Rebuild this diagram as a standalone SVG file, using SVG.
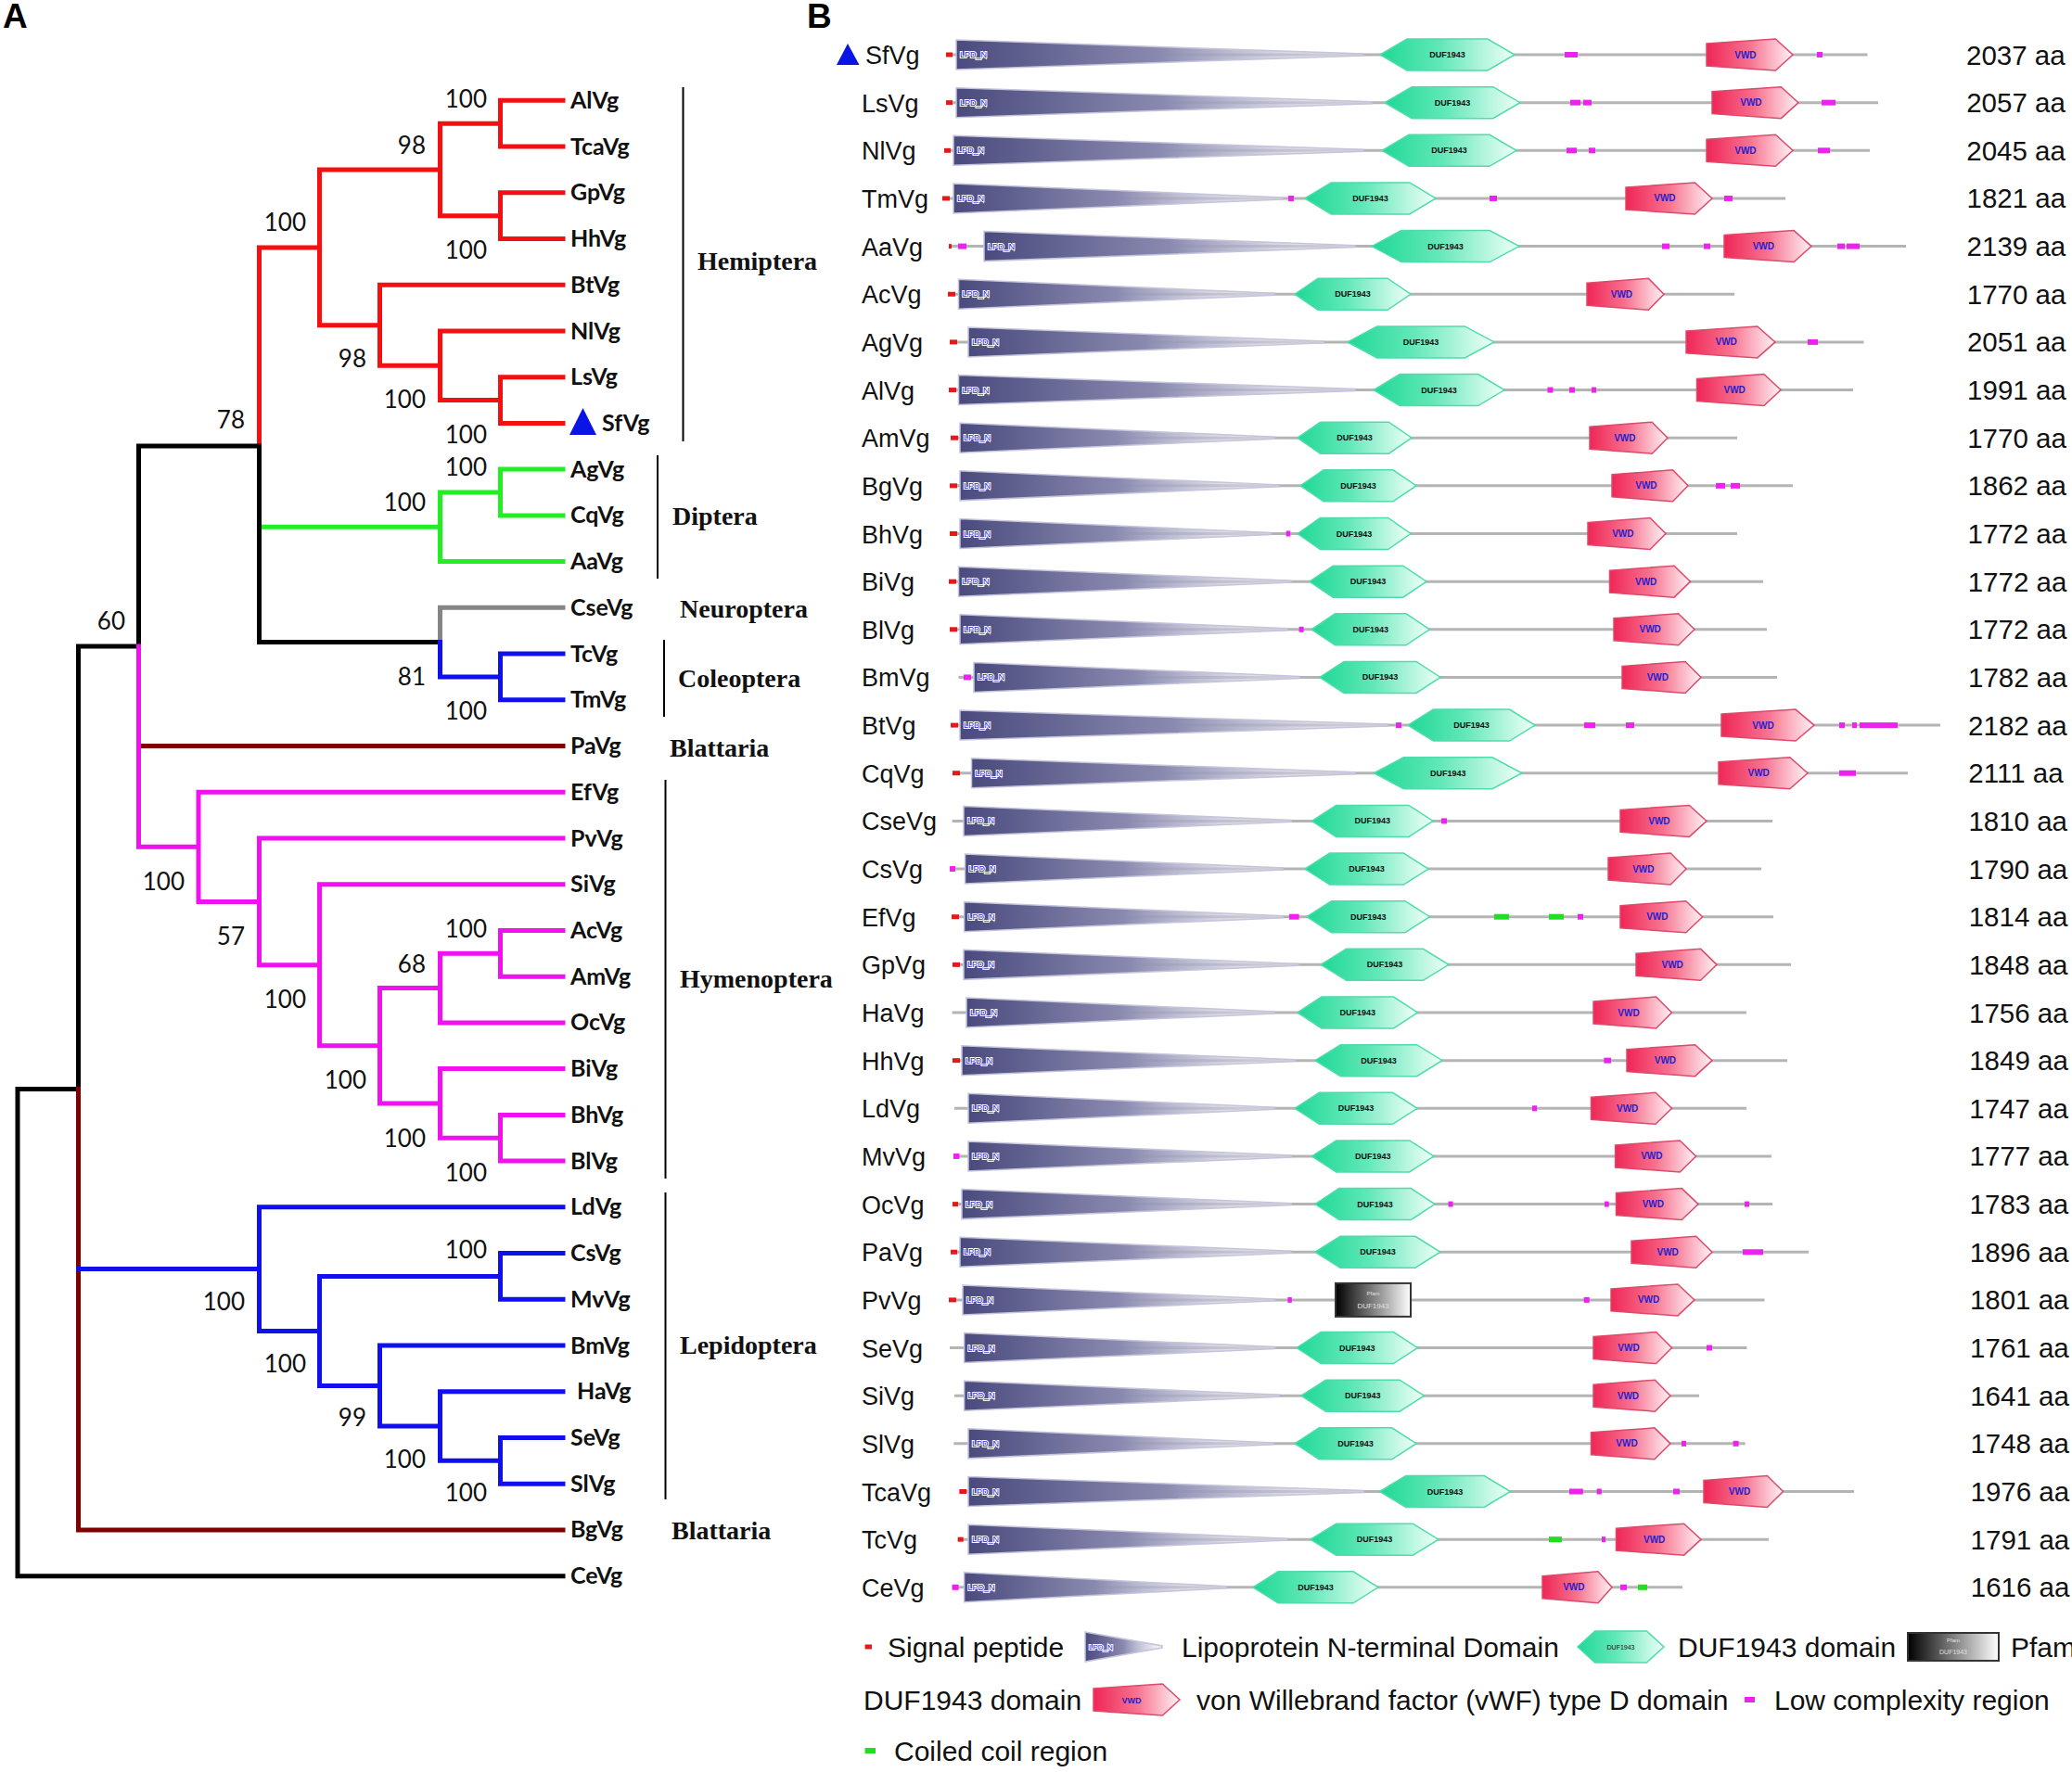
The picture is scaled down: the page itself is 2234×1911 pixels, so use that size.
<svg xmlns="http://www.w3.org/2000/svg" width="2234" height="1911" viewBox="0 0 2234 1911">
<style>
.br{fill:none;stroke-width:5;stroke-linecap:square;stroke-linejoin:miter}
.k{stroke:#000}.r{stroke:#f41010}.g{stroke:#22ee22}.b{stroke:#1010ee}.m{stroke:#f010f0}.gy{stroke:#858585}.dr{stroke:#800000}
.tl{font:bold 25px Lato,"Liberation Sans",sans-serif;fill:#111}
.bs{font:26px Lato,"Liberation Sans",sans-serif;fill:#111;text-anchor:end}
.ord{font:bold 28px "Liberation Serif",serif;fill:#111}
.brk{stroke:#000;stroke-width:2}
.pl{font:bold 37px "Liberation Sans",Arial,sans-serif;fill:#000}
.nm{font:27px "Liberation Sans",Arial,sans-serif;fill:#111}
.len{font:29.5px "Liberation Sans",Arial,sans-serif;fill:#111}
.lg{font:30px "Liberation Sans",Arial,sans-serif;fill:#111}
.bb{stroke:#b4b4b4;stroke-width:3}
.sp{fill:#e41a1a}.lc{fill:#ee22ee}.cc{fill:#22dd22}
.lpd{fill:url(#lpdG);stroke:#c4c4dc;stroke-width:1.5}
.duf{fill:url(#dufG);stroke:#4fdcaa;stroke-width:1.5}
.vwd{fill:url(#vwdG);stroke:#dd4a6a;stroke-width:1.5}
.pf{fill:url(#pfG);stroke:#333;stroke-width:2}
.lt{font:9px "Liberation Sans",Arial,sans-serif;fill:#2b2bd6;stroke:#fff;stroke-width:2;paint-order:stroke}
.dt{font:bold 9px "Liberation Sans",Arial,sans-serif;fill:#111;text-anchor:middle}
.vt{font:bold 10px "Liberation Sans",Arial,sans-serif;fill:#1f1fd0;text-anchor:middle}
.pt{font:7px "Liberation Sans",Arial,sans-serif;fill:#e0e0e0;text-anchor:middle}
</style>
<defs>
<linearGradient id="lpdG" x1="0" y1="0" x2="1" y2="0"><stop offset="0" stop-color="#4a4a7e"/><stop offset="0.5" stop-color="#8a8ab0"/><stop offset="1" stop-color="#eeeef6" stop-opacity="0.5"/></linearGradient>
<linearGradient id="dufG" x1="0" y1="0" x2="1" y2="0"><stop offset="0" stop-color="#1fd896"/><stop offset="0.45" stop-color="#62e8b8"/><stop offset="1" stop-color="#effff9"/></linearGradient>
<linearGradient id="vwdG" x1="0" y1="0" x2="1" y2="0"><stop offset="0" stop-color="#ef2656"/><stop offset="0.5" stop-color="#f7728f"/><stop offset="1" stop-color="#fff2f5"/></linearGradient>
<linearGradient id="pfG" x1="0" y1="0" x2="1" y2="0"><stop offset="0" stop-color="#000"/><stop offset="1" stop-color="#fff"/></linearGradient>
</defs>
<rect width="2234" height="1911" fill="#fff"/>
<text class="pl" x="3" y="30">A</text>
<text class="pl" x="870" y="30">B</text>

<g id="tree-connectors">
<path class="br r" d="M607,108.3 H539.5 V158 H607 M607,207.8 H539.5 V257.5 H607 M539.5,133.2 H474.5 V232.7 H539.5 M607,406.7 H539.5 V456.4 H607 M607,357 H474.5 V431.6 H539.5 M607,307.2 H409.5 V394.3 H474.5 M474.5,183 H344.5 V350.8 H409.5 M344.5,266.9 H279.5 V481"/>
<path class="br g" d="M607,506.1 H539.5 V555.9 H607 M539.5,531 H474.5 V605.6 H607 M474.5,568.3 H279.5"/>
<path class="br k" d="M279.5,481 V692.6 H474.5 M279.5,481 H149.5 V697 H84.5 V1174.5 H19 V1699.7 H607"/>
<path class="br gy" d="M607,655.3 H474.5 V692.6"/>
<path class="br b" d="M474.5,692.6 V730 H539.5 M607,705.1 H539.5 V754.8 H607"/>
<path class="br dr" d="M149.5,804.5 H607 M84.5,1174.5 V1649.9 H607"/>
<path class="br m" d="M149.5,697 V913.3 H214 M607,854.3 H214 V972.4 H279.5 M607,904 H279.5 V1040.8 H344.5 M607,953.7 H344.5 V1127.8 H409.5 M474.5,1065.6 H409.5 V1190 H474.5 M539.5,1028.3 H474.5 V1102.9 H607 M607,1003.4 H539.5 V1053.2 H607 M607,1152.6 H474.5 V1227.3 H539.5 M607,1202.4 H539.5 V1252.1 H607"/>
<path class="br b" d="M84.5,1368.6 H279.5 M607,1301.8 H279.5 V1435.5 H344.5 M539.5,1376.5 H344.5 V1494.5 H409.5 M607,1351.6 H539.5 V1401.3 H607 M607,1451 H409.5 V1538 H474.5 M607,1500.7 H474.5 V1575.3 H539.5 M607,1550.5 H539.5 V1600.2 H607"/>
</g>

<g id="bootstrap">
<text class="bs" x="525" y="116">100</text>
<text class="bs" x="459" y="166">98</text>
<text class="bs" x="330" y="249">100</text>
<text class="bs" x="525" y="279">100</text>
<text class="bs" x="395" y="396">98</text>
<text class="bs" x="459" y="440">100</text>
<text class="bs" x="525" y="478">100</text>
<text class="bs" x="264" y="462">78</text>
<text class="bs" x="525" y="513">100</text>
<text class="bs" x="459" y="551">100</text>
<text class="bs" x="135" y="679">60</text>
<text class="bs" x="459" y="739">81</text>
<text class="bs" x="525" y="776">100</text>
<text class="bs" x="199" y="960">100</text>
<text class="bs" x="264" y="1019">57</text>
<text class="bs" x="330" y="1087">100</text>
<text class="bs" x="525" y="1011">100</text>
<text class="bs" x="459" y="1049">68</text>
<text class="bs" x="395" y="1174">100</text>
<text class="bs" x="459" y="1237">100</text>
<text class="bs" x="525" y="1274">100</text>
<text class="bs" x="525" y="1357">100</text>
<text class="bs" x="264" y="1413">100</text>
<text class="bs" x="330" y="1480">100</text>
<text class="bs" x="395" y="1538">99</text>
<text class="bs" x="459" y="1583">100</text>
<text class="bs" x="525" y="1619">100</text>
</g>

<g id="leaf-AlVg"><text class="tl" x="615" y="116.8">AlVg</text></g>
<g id="leaf-TcaVg"><text class="tl" x="615" y="166.5">TcaVg</text></g>
<g id="leaf-GpVg"><text class="tl" x="615" y="216.3">GpVg</text></g>
<g id="leaf-HhVg"><text class="tl" x="615" y="266">HhVg</text></g>
<g id="leaf-BtVg"><text class="tl" x="615" y="315.7">BtVg</text></g>
<g id="leaf-NlVg"><text class="tl" x="615" y="365.5">NlVg</text></g>
<g id="leaf-LsVg"><text class="tl" x="615" y="415.2">LsVg</text></g>
<g id="leaf-SfVg"><polygon points="614,469 643,469 628.5,440" fill="#0a14e6"/><text class="tl" x="649" y="464.9">SfVg</text></g>
<g id="leaf-AgVg"><text class="tl" x="615" y="514.6">AgVg</text></g>
<g id="leaf-CqVg"><text class="tl" x="615" y="564.4">CqVg</text></g>
<g id="leaf-AaVg"><text class="tl" x="615" y="614.1">AaVg</text></g>
<g id="leaf-CseVg"><text class="tl" x="615" y="663.8">CseVg</text></g>
<g id="leaf-TcVg"><text class="tl" x="615" y="713.6">TcVg</text></g>
<g id="leaf-TmVg"><text class="tl" x="615" y="763.3">TmVg</text></g>
<g id="leaf-PaVg"><text class="tl" x="615" y="813">PaVg</text></g>
<g id="leaf-EfVg"><text class="tl" x="615" y="862.8">EfVg</text></g>
<g id="leaf-PvVg"><text class="tl" x="615" y="912.5">PvVg</text></g>
<g id="leaf-SiVg"><text class="tl" x="615" y="962.2">SiVg</text></g>
<g id="leaf-AcVg"><text class="tl" x="615" y="1011.9">AcVg</text></g>
<g id="leaf-AmVg"><text class="tl" x="615" y="1061.7">AmVg</text></g>
<g id="leaf-OcVg"><text class="tl" x="615" y="1111.4">OcVg</text></g>
<g id="leaf-BiVg"><text class="tl" x="615" y="1161.1">BiVg</text></g>
<g id="leaf-BhVg"><text class="tl" x="615" y="1210.9">BhVg</text></g>
<g id="leaf-BlVg"><text class="tl" x="615" y="1260.6">BlVg</text></g>
<g id="leaf-LdVg"><text class="tl" x="615" y="1310.3">LdVg</text></g>
<g id="leaf-CsVg"><text class="tl" x="615" y="1360.1">CsVg</text></g>
<g id="leaf-MvVg"><text class="tl" x="615" y="1409.8">MvVg</text></g>
<g id="leaf-BmVg"><text class="tl" x="615" y="1459.5">BmVg</text></g>
<g id="leaf-HaVg"><text class="tl" x="622" y="1509.2">HaVg</text></g>
<g id="leaf-SeVg"><text class="tl" x="615" y="1559">SeVg</text></g>
<g id="leaf-SlVg"><text class="tl" x="615" y="1608.7">SlVg</text></g>
<g id="leaf-BgVg"><text class="tl" x="615" y="1658.4">BgVg</text></g>
<g id="leaf-CeVg"><text class="tl" x="615" y="1708.2">CeVg</text></g>

<g id="orders">
<line class="brk" x1="736.5" y1="94" x2="736.5" y2="476"/><text class="ord" x="752" y="291">Hemiptera</text>
<line class="brk" x1="709" y1="491" x2="709" y2="624"/><text class="ord" x="725" y="566">Diptera</text>
<text class="ord" x="733" y="666">Neuroptera</text>
<line class="brk" x1="716" y1="690" x2="716" y2="773"/><text class="ord" x="731" y="741">Coleoptera</text>
<text class="ord" x="722" y="816">Blattaria</text>
<line class="brk" x1="717.5" y1="841" x2="717.5" y2="1271"/><text class="ord" x="733" y="1065">Hymenoptera</text>
<line class="brk" x1="717.5" y1="1286" x2="717.5" y2="1617"/><text class="ord" x="733" y="1460">Lepidoptera</text>
<text class="ord" x="724" y="1660">Blattaria</text>
</g>

<g id="b-SfVg" transform="translate(0,59)">
<line class="bb" x1="1020" y1="0" x2="2013.5" y2="0"/><rect class="sp" x="1020" y="-2.5" width="7" height="5"/>
<polygon class="lpd" points="1031,-16 1470,-1 1470,1 1031,16"/><text class="lt" x="1035" y="3">LPD_N</text>
<polygon class="duf" points="1488,0 1517,-17 1604,-17 1633,0 1604,17 1517,17"/><text class="dt" x="1560.5" y="3">DUF1943</text>
<rect class="lc" x="1687" y="-3" width="14" height="6"/>
<polygon class="vwd" points="1840,-12 1914.4,-17 1933,0 1914.4,17 1840,12"/><text class="vt" x="1881.9" y="3.5">VWD</text>
<rect class="lc" x="1959" y="-3" width="6" height="6"/>
<polygon points="902,11 926.5,11 914,-12" fill="#0a14e6"/>
<text class="nm" x="933" y="10">SfVg</text><text class="len" x="2120" y="10.5">2037 aa</text>
</g>
<g id="b-LsVg" transform="translate(0,110.65)">
<line class="bb" x1="1020" y1="0" x2="2025" y2="0"/><rect class="sp" x="1020" y="-2.5" width="7" height="5"/>
<polygon class="lpd" points="1031,-16 1479,-1 1479,1 1031,16"/><text class="lt" x="1035" y="3">LPD_N</text>
<polygon class="duf" points="1493,0 1522.2,-17 1609.8,-17 1639,0 1609.8,17 1522.2,17"/><text class="dt" x="1566" y="3">DUF1943</text>
<rect class="lc" x="1693" y="-3" width="11" height="6"/><rect class="lc" x="1707" y="-3" width="9" height="6"/>
<polygon class="vwd" points="1846,-12 1920.4,-17 1939,0 1920.4,17 1846,12"/><text class="vt" x="1887.9" y="3.5">VWD</text>
<rect class="lc" x="1964" y="-3" width="15" height="6"/>
<text class="nm" x="929" y="10">LsVg</text><text class="len" x="2120.2" y="10.5">2057 aa</text>
</g>
<g id="b-NlVg" transform="translate(0,162.3)">
<line class="bb" x1="1018" y1="0" x2="2016" y2="0"/><rect class="sp" x="1018" y="-2.5" width="7" height="5"/>
<polygon class="lpd" points="1028,-16 1470,-1 1470,1 1028,16"/><text class="lt" x="1032" y="3">LPD_N</text>
<polygon class="duf" points="1490,0 1519,-17 1606,-17 1635,0 1606,17 1519,17"/><text class="dt" x="1562.5" y="3">DUF1943</text>
<rect class="lc" x="1689" y="-3" width="11" height="6"/><rect class="lc" x="1713" y="-3" width="7" height="6"/>
<polygon class="vwd" points="1840,-12 1914.4,-17 1933,0 1914.4,17 1840,12"/><text class="vt" x="1881.9" y="3.5">VWD</text>
<rect class="lc" x="1960" y="-3" width="13" height="6"/>
<text class="nm" x="929" y="10">NlVg</text><text class="len" x="2120.3" y="10.5">2045 aa</text>
</g>
<g id="b-TmVg" transform="translate(0,213.95)">
<line class="bb" x1="1016" y1="0" x2="1925" y2="0"/><rect class="sp" x="1016" y="-2.5" width="8" height="5"/>
<polygon class="lpd" points="1028,-16 1383,-1 1383,1 1028,16"/><text class="lt" x="1032" y="3">LPD_N</text>
<rect class="lc" x="1389" y="-3" width="6" height="6"/>
<polygon class="duf" points="1407,0 1435.2,-17 1519.8,-17 1548,0 1519.8,17 1435.2,17"/><text class="dt" x="1477.5" y="3">DUF1943</text>
<rect class="lc" x="1606" y="-3" width="8" height="6"/>
<polygon class="vwd" points="1753,-12 1827.4,-17 1846,0 1827.4,17 1753,12"/><text class="vt" x="1794.9" y="3.5">VWD</text>
<rect class="lc" x="1859" y="-3" width="9" height="6"/>
<text class="nm" x="929" y="10">TmVg</text><text class="len" x="2120.5" y="10.5">1821 aa</text>
</g>
<g id="b-AaVg" transform="translate(0,265.6)">
<line class="bb" x1="1023" y1="0" x2="2055" y2="0"/><rect class="sp" x="1023" y="-2.5" width="3" height="5"/><rect class="lc" x="1033" y="-3" width="9" height="6"/>
<polygon class="lpd" points="1061,-16 1461,-1 1461,1 1061,16"/><text class="lt" x="1065" y="3">LPD_N</text>
<polygon class="duf" points="1479,0 1510.8,-17 1606.2,-17 1638,0 1606.2,17 1510.8,17"/><text class="dt" x="1558.5" y="3">DUF1943</text>
<rect class="lc" x="1792" y="-3" width="8" height="6"/><rect class="lc" x="1837" y="-3" width="7" height="6"/>
<polygon class="vwd" points="1859,-12 1934.2,-17 1953,0 1934.2,17 1859,12"/><text class="vt" x="1901.3" y="3.5">VWD</text>
<rect class="lc" x="1981" y="-3" width="8" height="6"/><rect class="lc" x="1991" y="-3" width="14" height="6"/>
<text class="nm" x="929" y="10">AaVg</text><text class="len" x="2120.6" y="10.5">2139 aa</text>
</g>
<g id="b-AcVg" transform="translate(0,317.25)">
<line class="bb" x1="1022" y1="0" x2="1870" y2="0"/><rect class="sp" x="1022" y="-2.5" width="8" height="5"/>
<polygon class="lpd" points="1033.5,-16 1374,-1 1374,1 1033.5,16"/><text class="lt" x="1037.5" y="3">LPD_N</text>
<polygon class="duf" points="1396,0 1421,-17 1496,-17 1521,0 1496,17 1421,17"/><text class="dt" x="1458.5" y="3">DUF1943</text>
<polygon class="vwd" points="1711,-12 1777.4,-17 1794,0 1777.4,17 1711,12"/><text class="vt" x="1748.4" y="3.5">VWD</text>
<text class="nm" x="929" y="10">AcVg</text><text class="len" x="2120.8" y="10.5">1770 aa</text>
</g>
<g id="b-AgVg" transform="translate(0,368.9)">
<line class="bb" x1="1024" y1="0" x2="2009.5" y2="0"/><rect class="sp" x="1024" y="-2.5" width="8" height="5"/>
<polygon class="lpd" points="1044,-16 1427,-1 1427,1 1044,16"/><text class="lt" x="1048" y="3">LPD_N</text>
<polygon class="duf" points="1453,0 1484.6,-17 1579.4,-17 1611,0 1579.4,17 1484.6,17"/><text class="dt" x="1532" y="3">DUF1943</text>
<polygon class="vwd" points="1818,-12 1894.8,-17 1914,0 1894.8,17 1818,12"/><text class="vt" x="1861.2" y="3.5">VWD</text>
<rect class="lc" x="1949" y="-3" width="11" height="6"/>
<text class="nm" x="929" y="10">AgVg</text><text class="len" x="2120.9" y="10.5">2051 aa</text>
</g>
<g id="b-AlVg" transform="translate(0,420.55)">
<line class="bb" x1="1023" y1="0" x2="1998" y2="0"/><rect class="sp" x="1023" y="-2.5" width="8" height="5"/>
<polygon class="lpd" points="1033.5,-16 1461,-1 1461,1 1033.5,16"/><text class="lt" x="1037.5" y="3">LPD_N</text>
<polygon class="duf" points="1481,0 1509.2,-17 1593.8,-17 1622,0 1593.8,17 1509.2,17"/><text class="dt" x="1551.5" y="3">DUF1943</text>
<rect class="lc" x="1668.5" y="-3" width="6" height="6"/><rect class="lc" x="1692" y="-3" width="6" height="6"/><rect class="lc" x="1716" y="-3" width="5" height="6"/>
<polygon class="vwd" points="1829.5,-12 1901.9,-17 1920,0 1901.9,17 1829.5,12"/><text class="vt" x="1870.2" y="3.5">VWD</text>
<text class="nm" x="929" y="10">AlVg</text><text class="len" x="2121.1" y="10.5">1991 aa</text>
</g>
<g id="b-AmVg" transform="translate(0,472.2)">
<line class="bb" x1="1025" y1="0" x2="1873" y2="0"/><rect class="sp" x="1025" y="-2.5" width="8" height="5"/>
<polygon class="lpd" points="1035,-16 1374,-1 1374,1 1035,16"/><text class="lt" x="1039" y="3">LPD_N</text>
<polygon class="duf" points="1399,0 1423.6,-17 1497.4,-17 1522,0 1497.4,17 1423.6,17"/><text class="dt" x="1460.5" y="3">DUF1943</text>
<polygon class="vwd" points="1714,-12 1781.2,-17 1798,0 1781.2,17 1714,12"/><text class="vt" x="1751.8" y="3.5">VWD</text>
<text class="nm" x="929" y="10">AmVg</text><text class="len" x="2121.2" y="10.5">1770 aa</text>
</g>
<g id="b-BgVg" transform="translate(0,523.85)">
<line class="bb" x1="1024" y1="0" x2="1933" y2="0"/><rect class="sp" x="1024" y="-2.5" width="8" height="5"/>
<polygon class="lpd" points="1035,-16 1379,-1 1379,1 1035,16"/><text class="lt" x="1039" y="3">LPD_N</text>
<polygon class="duf" points="1402,0 1427,-17 1502,-17 1527,0 1502,17 1427,17"/><text class="dt" x="1464.5" y="3">DUF1943</text>
<polygon class="vwd" points="1738,-12 1803.6,-17 1820,0 1803.6,17 1738,12"/><text class="vt" x="1774.9" y="3.5">VWD</text>
<rect class="lc" x="1850" y="-3" width="10" height="6"/><rect class="lc" x="1866" y="-3" width="10" height="6"/>
<text class="nm" x="929" y="10">BgVg</text><text class="len" x="2121.4" y="10.5">1862 aa</text>
</g>
<g id="b-BhVg" transform="translate(0,575.5)">
<line class="bb" x1="1024" y1="0" x2="1873" y2="0"/><rect class="sp" x="1024" y="-2.5" width="8" height="5"/>
<polygon class="lpd" points="1035,-16 1370,-1 1370,1 1035,16"/><text class="lt" x="1039" y="3">LPD_N</text>
<rect class="lc" x="1386.7" y="-3" width="4.5" height="6"/>
<polygon class="duf" points="1399,0 1423.4,-17 1496.6,-17 1521,0 1496.6,17 1423.4,17"/><text class="dt" x="1460" y="3">DUF1943</text>
<polygon class="vwd" points="1712,-12 1779.2,-17 1796,0 1779.2,17 1712,12"/><text class="vt" x="1749.8" y="3.5">VWD</text>
<text class="nm" x="929" y="10">BhVg</text><text class="len" x="2121.5" y="10.5">1772 aa</text>
</g>
<g id="b-BiVg" transform="translate(0,627.15)">
<line class="bb" x1="1023" y1="0" x2="1901" y2="0"/><rect class="sp" x="1023" y="-2.5" width="8" height="5"/>
<polygon class="lpd" points="1033.5,-16 1392,-1 1392,1 1033.5,16"/><text class="lt" x="1037.5" y="3">LPD_N</text>
<polygon class="duf" points="1412,0 1437.2,-17 1512.8,-17 1538,0 1512.8,17 1437.2,17"/><text class="dt" x="1475" y="3">DUF1943</text>
<polygon class="vwd" points="1735.5,-12 1805.1,-17 1822.5,0 1805.1,17 1735.5,12"/><text class="vt" x="1774.7" y="3.5">VWD</text>
<text class="nm" x="929" y="10">BiVg</text><text class="len" x="2121.7" y="10.5">1772 aa</text>
</g>
<g id="b-BlVg" transform="translate(0,678.8)">
<line class="bb" x1="1024" y1="0" x2="1905" y2="0"/><rect class="sp" x="1024" y="-2.5" width="8" height="5"/>
<polygon class="lpd" points="1035,-16 1388,-1 1388,1 1035,16"/><text class="lt" x="1039" y="3">LPD_N</text>
<rect class="lc" x="1400.6" y="-3" width="5" height="6"/>
<polygon class="duf" points="1414,0 1439.5,-17 1516,-17 1541.5,0 1516,17 1439.5,17"/><text class="dt" x="1477.8" y="3">DUF1943</text>
<polygon class="vwd" points="1740,-12 1809.6,-17 1827,0 1809.6,17 1740,12"/><text class="vt" x="1779.2" y="3.5">VWD</text>
<text class="nm" x="929" y="10">BlVg</text><text class="len" x="2121.8" y="10.5">1772 aa</text>
</g>
<g id="b-BmVg" transform="translate(0,730.45)">
<line class="bb" x1="1033.5" y1="0" x2="1916" y2="0"/><rect class="lc" x="1039" y="-3" width="8" height="6"/>
<polygon class="lpd" points="1050,-16 1401,-1 1401,1 1050,16"/><text class="lt" x="1054" y="3">LPD_N</text>
<polygon class="duf" points="1423,0 1449,-17 1527,-17 1553,0 1527,17 1449,17"/><text class="dt" x="1488" y="3">DUF1943</text>
<polygon class="vwd" points="1749,-12 1817,-17 1834,0 1817,17 1749,12"/><text class="vt" x="1787.3" y="3.5">VWD</text>
<text class="nm" x="929" y="10">BmVg</text><text class="len" x="2122" y="10.5">1782 aa</text>
</g>
<g id="b-BtVg" transform="translate(0,782.1)">
<line class="bb" x1="1025" y1="0" x2="2092" y2="0"/><rect class="sp" x="1025" y="-2.5" width="8" height="5"/>
<polygon class="lpd" points="1035,-16 1496,-1 1496,1 1035,16"/><text class="lt" x="1039" y="3">LPD_N</text>
<rect class="lc" x="1505" y="-3" width="6" height="6"/>
<polygon class="duf" points="1518,0 1545.4,-17 1627.6,-17 1655,0 1627.6,17 1545.4,17"/><text class="dt" x="1586.5" y="3">DUF1943</text>
<rect class="lc" x="1708" y="-3" width="12" height="6"/><rect class="lc" x="1753" y="-3" width="9" height="6"/>
<polygon class="vwd" points="1856,-12 1936,-17 1956,0 1936,17 1856,12"/><text class="vt" x="1901" y="3.5">VWD</text>
<rect class="lc" x="1983" y="-3" width="6" height="6"/><rect class="lc" x="1997" y="-3" width="5" height="6"/><rect class="lc" x="2005" y="-3" width="41" height="6"/>
<text class="nm" x="929" y="10">BtVg</text><text class="len" x="2122.1" y="10.5">2182 aa</text>
</g>
<g id="b-CqVg" transform="translate(0,833.75)">
<line class="bb" x1="1027" y1="0" x2="2057" y2="0"/><rect class="sp" x="1027" y="-2.5" width="8" height="5"/>
<polygon class="lpd" points="1047.5,-16 1461,-1 1461,1 1047.5,16"/><text class="lt" x="1051.5" y="3">LPD_N</text>
<polygon class="duf" points="1481.5,0 1513.4,-17 1609.1,-17 1641,0 1609.1,17 1513.4,17"/><text class="dt" x="1561.3" y="3">DUF1943</text>
<polygon class="vwd" points="1853,-12 1929.8,-17 1949,0 1929.8,17 1853,12"/><text class="vt" x="1896.2" y="3.5">VWD</text>
<rect class="lc" x="1983" y="-3" width="18" height="6"/>
<text class="nm" x="929" y="10">CqVg</text><text class="len" x="2122.3" y="10.5">2111 aa</text>
</g>
<g id="b-CseVg" transform="translate(0,885.4)">
<line class="bb" x1="1026.6" y1="0" x2="1911" y2="0"/>
<polygon class="lpd" points="1039,-16 1392,-1 1392,1 1039,16"/><text class="lt" x="1043" y="3">LPD_N</text>
<polygon class="duf" points="1414.5,0 1440.6,-17 1518.9,-17 1545,0 1518.9,17 1440.6,17"/><text class="dt" x="1479.8" y="3">DUF1943</text>
<rect class="lc" x="1554" y="-3" width="6" height="6"/>
<polygon class="vwd" points="1747,-12 1821.4,-17 1840,0 1821.4,17 1747,12"/><text class="vt" x="1788.9" y="3.5">VWD</text>
<text class="nm" x="929" y="10">CseVg</text><text class="len" x="2122.4" y="10.5">1810 aa</text>
</g>
<g id="b-CsVg" transform="translate(0,937.05)">
<line class="bb" x1="1024" y1="0" x2="1899" y2="0"/><rect class="lc" x="1024" y="-3" width="6" height="6"/>
<polygon class="lpd" points="1040.5,-16 1383,-1 1383,1 1040.5,16"/><text class="lt" x="1044.5" y="3">LPD_N</text>
<polygon class="duf" points="1407,0 1433.6,-17 1513.4,-17 1540,0 1513.4,17 1433.6,17"/><text class="dt" x="1473.5" y="3">DUF1943</text>
<polygon class="vwd" points="1734,-12 1801.2,-17 1818,0 1801.2,17 1734,12"/><text class="vt" x="1771.8" y="3.5">VWD</text>
<text class="nm" x="929" y="10">CsVg</text><text class="len" x="2122.6" y="10.5">1790 aa</text>
</g>
<g id="b-EfVg" transform="translate(0,988.7)">
<line class="bb" x1="1026" y1="0" x2="1912" y2="0"/><rect class="sp" x="1026" y="-2.5" width="8" height="5"/>
<polygon class="lpd" points="1039.6,-16 1383,-1 1383,1 1039.6,16"/><text class="lt" x="1043.6" y="3">LPD_N</text>
<rect class="lc" x="1390" y="-3" width="10.6" height="6"/>
<polygon class="duf" points="1409,0 1435.5,-17 1515,-17 1541.5,0 1515,17 1435.5,17"/><text class="dt" x="1475.3" y="3">DUF1943</text>
<rect class="cc" x="1611" y="-3" width="16" height="6"/><rect class="cc" x="1670" y="-3" width="16" height="6"/><rect class="lc" x="1701" y="-3" width="6" height="6"/>
<polygon class="vwd" points="1747,-12 1817.8,-17 1835.5,0 1817.8,17 1747,12"/><text class="vt" x="1786.8" y="3.5">VWD</text>
<text class="nm" x="929" y="10">EfVg</text><text class="len" x="2122.7" y="10.5">1814 aa</text>
</g>
<g id="b-GpVg" transform="translate(0,1040.35)">
<line class="bb" x1="1027" y1="0" x2="1931" y2="0"/><rect class="sp" x="1027" y="-2.5" width="8" height="5"/>
<polygon class="lpd" points="1039,-16 1400,-1 1400,1 1039,16"/><text class="lt" x="1043" y="3">LPD_N</text>
<polygon class="duf" points="1424,0 1451.6,-17 1534.4,-17 1562,0 1534.4,17 1451.6,17"/><text class="dt" x="1493" y="3">DUF1943</text>
<polygon class="vwd" points="1764,-12 1833.6,-17 1851,0 1833.6,17 1764,12"/><text class="vt" x="1803.2" y="3.5">VWD</text>
<text class="nm" x="929" y="10">GpVg</text><text class="len" x="2122.9" y="10.5">1848 aa</text>
</g>
<g id="b-HaVg" transform="translate(0,1092)">
<line class="bb" x1="1026.6" y1="0" x2="1883" y2="0"/>
<polygon class="lpd" points="1042,-16 1374,-1 1374,1 1042,16"/><text class="lt" x="1046" y="3">LPD_N</text>
<polygon class="duf" points="1399,0 1424.9,-17 1502.6,-17 1528.5,0 1502.6,17 1424.9,17"/><text class="dt" x="1463.8" y="3">DUF1943</text>
<polygon class="vwd" points="1718,-12 1785.6,-17 1802.5,0 1785.6,17 1718,12"/><text class="vt" x="1756" y="3.5">VWD</text>
<text class="nm" x="929" y="10">HaVg</text><text class="len" x="2123" y="10.5">1756 aa</text>
</g>
<g id="b-HhVg" transform="translate(0,1143.65)">
<line class="bb" x1="1027" y1="0" x2="1927" y2="0"/><rect class="sp" x="1027" y="-2.5" width="8" height="5"/>
<polygon class="lpd" points="1037,-16 1396,-1 1396,1 1037,16"/><text class="lt" x="1041" y="3">LPD_N</text>
<polygon class="duf" points="1418,0 1445.4,-17 1527.6,-17 1555,0 1527.6,17 1445.4,17"/><text class="dt" x="1486.5" y="3">DUF1943</text>
<rect class="lc" x="1729.4" y="-3" width="7.6" height="6"/>
<polygon class="vwd" points="1754,-12 1827.6,-17 1846,0 1827.6,17 1754,12"/><text class="vt" x="1795.4" y="3.5">VWD</text>
<text class="nm" x="929" y="10">HhVg</text><text class="len" x="2123.2" y="10.5">1849 aa</text>
</g>
<g id="b-LdVg" transform="translate(0,1195.3)">
<line class="bb" x1="1029" y1="0" x2="1883" y2="0"/>
<polygon class="lpd" points="1044,-16 1374,-1 1374,1 1044,16"/><text class="lt" x="1048" y="3">LPD_N</text>
<polygon class="duf" points="1396,0 1422.4,-17 1501.6,-17 1528,0 1501.6,17 1422.4,17"/><text class="dt" x="1462" y="3">DUF1943</text>
<rect class="lc" x="1652" y="-3" width="5" height="6"/>
<polygon class="vwd" points="1715.5,-12 1785.1,-17 1802.5,0 1785.1,17 1715.5,12"/><text class="vt" x="1754.7" y="3.5">VWD</text>
<text class="nm" x="929" y="10">LdVg</text><text class="len" x="2123.3" y="10.5">1747 aa</text>
</g>
<g id="b-MvVg" transform="translate(0,1246.95)">
<line class="bb" x1="1028" y1="0" x2="1910" y2="0"/><rect class="lc" x="1028" y="-3" width="6.4" height="6"/>
<polygon class="lpd" points="1044,-16 1392,-1 1392,1 1044,16"/><text class="lt" x="1048" y="3">LPD_N</text>
<polygon class="duf" points="1414.5,0 1440.8,-17 1519.7,-17 1546,0 1519.7,17 1440.8,17"/><text class="dt" x="1480.3" y="3">DUF1943</text>
<polygon class="vwd" points="1741.6,-12 1811.2,-17 1828.6,0 1811.2,17 1741.6,12"/><text class="vt" x="1780.8" y="3.5">VWD</text>
<text class="nm" x="929" y="10">MvVg</text><text class="len" x="2123.5" y="10.5">1777 aa</text>
</g>
<g id="b-OcVg" transform="translate(0,1298.6)">
<line class="bb" x1="1027" y1="0" x2="1911" y2="0"/><rect class="sp" x="1027" y="-2.5" width="6" height="5"/>
<polygon class="lpd" points="1037,-16 1392,-1 1392,1 1037,16"/><text class="lt" x="1041" y="3">LPD_N</text>
<polygon class="duf" points="1418,0 1443.8,-17 1521.2,-17 1547,0 1521.2,17 1443.8,17"/><text class="dt" x="1482.5" y="3">DUF1943</text>
<rect class="lc" x="1561.6" y="-3" width="5" height="6"/><rect class="lc" x="1730" y="-3" width="4.7" height="6"/>
<polygon class="vwd" points="1742.5,-12 1813.3,-17 1831,0 1813.3,17 1742.5,12"/><text class="vt" x="1782.3" y="3.5">VWD</text>
<rect class="lc" x="1881" y="-3" width="5" height="6"/>
<text class="nm" x="929" y="10">OcVg</text><text class="len" x="2123.6" y="10.5">1783 aa</text>
</g>
<g id="b-PaVg" transform="translate(0,1350.25)">
<line class="bb" x1="1025" y1="0" x2="1950" y2="0"/><rect class="sp" x="1025" y="-2.5" width="7" height="5"/>
<polygon class="lpd" points="1035,-16 1392,-1 1392,1 1035,16"/><text class="lt" x="1039" y="3">LPD_N</text>
<polygon class="duf" points="1418,0 1445,-17 1526,-17 1553,0 1526,17 1445,17"/><text class="dt" x="1485.5" y="3">DUF1943</text>
<polygon class="vwd" points="1759,-12 1828.6,-17 1846,0 1828.6,17 1759,12"/><text class="vt" x="1798.2" y="3.5">VWD</text>
<rect class="lc" x="1879" y="-3" width="22" height="6"/>
<text class="nm" x="929" y="10">PaVg</text><text class="len" x="2123.8" y="10.5">1896 aa</text>
</g>
<g id="b-PvVg" transform="translate(0,1401.9)">
<line class="bb" x1="1023" y1="0" x2="1902.5" y2="0"/><rect class="sp" x="1023" y="-2.5" width="8" height="5"/>
<polygon class="lpd" points="1038,-16 1374.5,-1 1374.5,1 1038,16"/><text class="lt" x="1042" y="3">LPD_N</text>
<rect class="lc" x="1388.4" y="-3" width="4.4" height="6"/>
<rect class="pf" x="1440" y="-18" width="81" height="36"/><text class="pt" x="1480.5" y="-5" style="font-size:6px">Pfam</text><text class="pt" x="1480.5" y="9" style="font-size:8px">DUF1943</text>
<rect class="lc" x="1707.7" y="-3" width="6" height="6"/>
<polygon class="vwd" points="1737,-12 1809,-17 1827,0 1809,17 1737,12"/><text class="vt" x="1777.5" y="3.5">VWD</text>
<text class="nm" x="929" y="10">PvVg</text><text class="len" x="2123.9" y="10.5">1801 aa</text>
</g>
<g id="b-SeVg" transform="translate(0,1453.55)">
<line class="bb" x1="1024" y1="0" x2="1883.4" y2="0"/>
<polygon class="lpd" points="1039.6,-16 1374.5,-1 1374.5,1 1039.6,16"/><text class="lt" x="1043.6" y="3">LPD_N</text>
<polygon class="duf" points="1398,0 1424.1,-17 1502.4,-17 1528.5,0 1502.4,17 1424.1,17"/><text class="dt" x="1463.3" y="3">DUF1943</text>
<polygon class="vwd" points="1718,-12 1785.6,-17 1802.5,0 1785.6,17 1718,12"/><text class="vt" x="1756" y="3.5">VWD</text>
<rect class="lc" x="1840" y="-3" width="6" height="6"/>
<text class="nm" x="929" y="10">SeVg</text><text class="len" x="2124.1" y="10.5">1761 aa</text>
</g>
<g id="b-SiVg" transform="translate(0,1505.2)">
<line class="bb" x1="1029" y1="0" x2="1832" y2="0"/>
<polygon class="lpd" points="1039.6,-16 1379,-1 1379,1 1039.6,16"/><text class="lt" x="1043.6" y="3">LPD_N</text>
<polygon class="duf" points="1403,0 1429.5,-17 1509,-17 1535.5,0 1509,17 1429.5,17"/><text class="dt" x="1469.3" y="3">DUF1943</text>
<polygon class="vwd" points="1718,-12 1784.4,-17 1801,0 1784.4,17 1718,12"/><text class="vt" x="1755.4" y="3.5">VWD</text>
<text class="nm" x="929" y="10">SiVg</text><text class="len" x="2124.2" y="10.5">1641 aa</text>
</g>
<g id="b-SlVg" transform="translate(0,1556.85)">
<line class="bb" x1="1028.3" y1="0" x2="1881.7" y2="0"/>
<polygon class="lpd" points="1044,-16 1373,-1 1373,1 1044,16"/><text class="lt" x="1048" y="3">LPD_N</text>
<polygon class="duf" points="1396,0 1422.2,-17 1500.8,-17 1527,0 1500.8,17 1422.2,17"/><text class="dt" x="1461.5" y="3">DUF1943</text>
<polygon class="vwd" points="1715.5,-12 1783.9,-17 1801,0 1783.9,17 1715.5,12"/><text class="vt" x="1754" y="3.5">VWD</text>
<rect class="lc" x="1813" y="-3" width="5" height="6"/><rect class="lc" x="1868.6" y="-3" width="6" height="6"/>
<text class="nm" x="929" y="10">SlVg</text><text class="len" x="2124.4" y="10.5">1748 aa</text>
</g>
<g id="b-TcaVg" transform="translate(0,1608.5)">
<line class="bb" x1="1034.4" y1="0" x2="1999" y2="0"/><rect class="sp" x="1034.4" y="-2.5" width="7.8" height="5"/>
<polygon class="lpd" points="1044,-16 1470,-1 1470,1 1044,16"/><text class="lt" x="1048" y="3">LPD_N</text>
<polygon class="duf" points="1487.6,0 1515.8,-17 1600.3,-17 1628.5,0 1600.3,17 1515.8,17"/><text class="dt" x="1558" y="3">DUF1943</text>
<rect class="lc" x="1692" y="-3" width="14.8" height="6"/><rect class="lc" x="1721.6" y="-3" width="5.2" height="6"/><rect class="lc" x="1804" y="-3" width="7" height="6"/>
<polygon class="vwd" points="1837,-12 1905.4,-17 1922.5,0 1905.4,17 1837,12"/><text class="vt" x="1875.5" y="3.5">VWD</text>
<text class="nm" x="929" y="10">TcaVg</text><text class="len" x="2124.5" y="10.5">1976 aa</text>
</g>
<g id="b-TcVg" transform="translate(0,1660.15)">
<line class="bb" x1="1032.7" y1="0" x2="1907" y2="0"/><rect class="sp" x="1032.7" y="-2.5" width="6" height="5"/>
<polygon class="lpd" points="1044,-16 1387.6,-1 1387.6,1 1044,16"/><text class="lt" x="1048" y="3">LPD_N</text>
<polygon class="duf" points="1413,0 1440.6,-17 1523.4,-17 1551,0 1523.4,17 1440.6,17"/><text class="dt" x="1482" y="3">DUF1943</text>
<rect class="cc" x="1670" y="-3" width="14" height="6"/><rect class="lc" x="1727" y="-3" width="4" height="6"/>
<polygon class="vwd" points="1742.5,-12 1815.7,-17 1834,0 1815.7,17 1742.5,12"/><text class="vt" x="1783.7" y="3.5">VWD</text>
<text class="nm" x="929" y="10">TcVg</text><text class="len" x="2124.6" y="10.5">1791 aa</text>
</g>
<g id="b-CeVg" transform="translate(0,1711.8)">
<line class="bb" x1="1026.6" y1="0" x2="1814" y2="0"/><rect class="lc" x="1026.6" y="-3" width="7" height="6"/>
<polygon class="lpd" points="1039.6,-16 1322,-1 1322,1 1039.6,16"/><text class="lt" x="1043.6" y="3">LPD_N</text>
<polygon class="duf" points="1351,0 1378,-17 1459,-17 1486,0 1459,17 1378,17"/><text class="dt" x="1418.5" y="3">DUF1943</text>
<polygon class="vwd" points="1663,-12 1723,-17 1738,0 1723,17 1663,12"/><text class="vt" x="1696.8" y="3.5">VWD</text>
<rect class="lc" x="1747" y="-3" width="7" height="6"/><rect class="cc" x="1766" y="-3" width="10" height="6"/>
<text class="nm" x="929" y="10">CeVg</text><text class="len" x="2124.8" y="10.5">1616 aa</text>
</g>

<g id="legend">
<rect class="sp" x="932.6" y="1773.5" width="7.4" height="5"/><text class="lg" x="957" y="1787">Signal peptide</text>
<polygon class="lpd" points="1170,1760 1253,1775 1253,1777 1170,1792"/><text class="lt" x="1174" y="1779" style="font-size:8px">LPD_N</text>
<text class="lg" x="1274" y="1787">Lipoprotein N-terminal Domain</text>
<polygon class="duf" points="1701,1776 1719.6,1759 1775.4,1759 1794,1776 1775.4,1793 1719.6,1793"/><text class="dt" x="1747.5" y="1779" style="font-size:7px;font-weight:normal">DUF1943</text>
<text class="lg" x="1809" y="1787">DUF1943 domain</text>
<rect class="pf" x="2057" y="1761" width="98" height="30"/><text class="pt" x="2106" y="1771" style="font-size:6px">Pfam</text><text class="pt" x="2106" y="1784" style="font-size:7px">DUF1943</text>
<text class="lg" x="2168" y="1787">Pfam</text>
<text class="lg" x="931" y="1844">DUF1943 domain</text>
<polygon class="vwd" points="1179,1821 1253.4,1816 1272,1833 1253.4,1850 1179,1845"/><text class="vt" x="1220" y="1836.5" style="font-size:9px">VWD</text>
<text class="lg" x="1290" y="1844">von Willebrand factor (vWF) type D domain</text>
<rect class="lc" x="1881" y="1830" width="11" height="6"/><text class="lg" x="1913" y="1844">Low complexity region</text>
<rect class="cc" x="932.6" y="1885" width="11.4" height="6"/><text class="lg" x="964" y="1899">Coiled coil region</text>
</g>
</svg>
